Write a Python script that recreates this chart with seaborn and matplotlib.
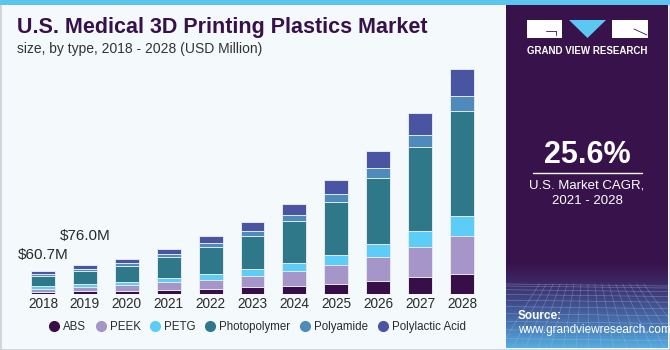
import numpy as np
import pandas as pd
import matplotlib
matplotlib.use("Agg")
import matplotlib.pyplot as plt
from matplotlib.patches import Rectangle, Polygon
from matplotlib.lines import Line2D
from matplotlib.colors import to_rgb
import seaborn as sns

# ---- data (USD Million) ----
years = ["2018", "2019", "2020", "2021", "2022", "2023", "2024", "2025", "2026", "2027", "2028"]
abs_vals = [6.0, 7.1, 8.6, 11.3, 13.9, 17.5, 21.7, 27.0, 34.0, 43.7, 53.2]
peek_vals = [7.8, 11.3, 14.9, 19.1, 23.6, 30.6, 38.5, 49.8, 62.9, 79.4, 99.5]
petg_vals = [6.0, 7.1, 7.9, 11.3, 14.9, 17.5, 21.7, 26.2, 34.0, 41.9, 52.4]
photo_vals = [27.0, 34.1, 41.9, 55.8, 71.5, 87.2, 109.2, 138.8, 173.7, 220.8, 274.2]
polyamide_vals = [5.2, 6.5, 9.0, 7.9, 9.7, 12.3, 15.7, 20.2, 26.2, 30.6, 37.5]
pla_vals = [8.7, 9.9, 10.5, 13.1, 17.5, 22.8, 28.0, 35.9, 44.5, 58.4, 71.5]
series_names = ["ABS", "PEEK", "PETG", "Photopolymer", "Polyamide", "Polylactic Acid"]
annotated_years = ["2018", "2019"]

colors = ["#370e48", "#a595c8", "#5ccdf6", "#2f7889", "#4f8abd", "#4954a3"]
bg = "#f4f9fc"
title_color = "#37114a"
panel = "#38124a"

series = [abs_vals, peek_vals, petg_vals, photo_vals, polyamide_vals, pla_vals]
df = pd.DataFrame({"year": years})
cum = np.zeros(len(years))
cum_cols = []
for name, vals in zip(series_names, series):
    cum = cum + np.array(vals)
    df[name] = cum.copy()
    cum_cols.append(name)

sns.set_theme(style="white")
plt.rcParams["font.family"] = ["Liberation Sans", "DejaVu Sans"]

W, H = 670, 350
fig = plt.figure(figsize=(6.7, 3.5), dpi=100, facecolor=bg)


def px_axes(rect_px, z):
    x0, yt, x1, yb = rect_px
    a = fig.add_axes([x0 / W, (H - yb) / H, (x1 - x0) / W, (yb - yt) / H], zorder=z)
    a.set_xlim(x0, x1)
    a.set_ylim(yb, yt)
    a.set_autoscale_on(False)
    a.axis("off")
    a.patch.set_alpha(0)
    return a


# layer 0: background and panel
axbg = px_axes((0, 0, W, H), 0)
axbg.add_patch(Rectangle((0.5, 0.5), W - 1, H - 1, facecolor=bg, edgecolor="#c9cfd6", lw=1.2))
axbg.add_patch(Rectangle((0, 0), W, 4.5, facecolor="#5cc5ee", edgecolor="none"))
axbg.add_patch(Rectangle((506, 4.5), 162, 343.5, facecolor=panel, edgecolor="none"))

# layer 1: gradient with grid at the bottom of the panel (manual colour interpolation)
axg = px_axes((506, 262, 668, 348), 1)
stop_pos = np.array([0.0, 0.2, 0.35, 0.7, 1.0])
stop_rgb = np.array([to_rgb(c) for c in [panel, "#3b2461", "#3e3a78", "#4670ad", "#55abdf"]])
nstrip = 43
edges = np.linspace(262, 348, nstrip + 1)
for k in range(nstrip):
    t = k / (nstrip - 1)
    rgb = tuple(float(np.interp(t, stop_pos, stop_rgb[:, j])) for j in range(3))
    axg.add_patch(Rectangle((506, edges[k]), 162, edges[k + 1] - edges[k] + 0.6,
                            facecolor=rgb, edgecolor="none"))
ys = 284 + 64 * (np.linspace(0, 1, 11) ** 1.5)
for yy in ys:
    axg.plot([506, 668], [yy, yy + 2], color="#a9c4e6", lw=0.45, alpha=0.45)
for xx in np.linspace(500, 690, 16):
    axg.plot([587 + (xx - 587) * 0.55, xx], [284, 348], color="#a9c4e6", lw=0.45, alpha=0.4)

# layer 3: logo and texts
axt = px_axes((0, 0, W, H), 3)
axt.add_patch(Rectangle((527, 20), 35, 18, facecolor="white", edgecolor="none"))
axt.plot([546, 556], [31, 31], color=panel, lw=0.6)
axt.plot([556, 556], [31, 35], color=panel, lw=0.6)
axt.add_patch(Polygon([(569, 20), (606, 20), (587.5, 38)], closed=True, facecolor="#5bc8f2",
                      edgecolor="none"))
axt.add_patch(Rectangle((612, 20), 36, 18, facecolor="white", edgecolor="none"))
axt.plot([634, 647], [29, 35], color=panel, lw=0.6)
axt.text(587.5, 51, "GRAND VIEW RESEARCH", color="white", fontsize=7.0, fontweight="bold",
         ha="center", va="center")
axt.text(587, 155, "25.6%", color="white", fontsize=22, fontweight="bold", ha="center", va="center")
axt.plot([533, 642], [173, 173], color="white", lw=1)
axt.text(587, 186, "U.S. Market CAGR,", color="white", fontsize=9.5, ha="center", va="center")
axt.text(587, 201, "2021 - 2028", color="white", fontsize=9.5, ha="center", va="center")
axt.text(518, 316, "Source:", color="white", fontsize=8.5, fontweight="bold", ha="left", va="center")
axt.text(518, 330, "www.grandviewresearch.com", color="white", fontsize=8.5, ha="left", va="center")
axt.text(17, 28, "U.S. Medical 3D Printing Plastics Market", color=title_color, fontsize=15.5,
         fontweight="heavy", ha="left", va="center")
axt.text(17, 49, "size, by type, 2018 - 2028 (USD Million)", color="#333333", fontsize=10,
         ha="left", va="center")

# layer 2: main chart
left_px, right_px = 22, 483
base_px, top_px = 294, 64
ax = fig.add_axes([left_px / W, (H - base_px) / H, (right_px - left_px) / W, (base_px - top_px) / H], zorder=2)
ax.patch.set_alpha(0)
for name, col in reversed(list(zip(cum_cols, colors))):
    sns.barplot(data=df, x="year", y=name, color=col, width=0.57, ax=ax,
                edgecolor="#e3e9f1", linewidth=0.7, saturation=1, order=years)
ax.set_xlim(-0.5, len(years) - 0.5)
ax.set_ylim(0, (base_px - top_px) * 60.7 / 23.2)
ax.set_xlabel("")
ax.set_ylabel("")
ax.set_yticks([])
for s in ax.spines.values():
    s.set_visible(False)
ax.tick_params(axis="x", length=0, pad=2.5, labelsize=9.8, labelcolor="#2a2a2a")

totals = df[cum_cols[-1]].values
offsets = {"2018": (0, 11.3), "2019": (0, 21.0)}
for y in annotated_years:
    i = years.index(y)
    ax.annotate(f"${totals[i]:.1f}M", xy=(i, totals[i]), xytext=offsets[y], textcoords="offset points",
                ha="center", va="center", fontsize=11, color="#2a2a2a")

handles = [Line2D([0], [0], marker="o", linestyle="none", markersize=7, markerfacecolor=c,
                  markeredgecolor=c) for c in colors]
fig.legend(handles, series_names, loc="center", bbox_to_anchor=(257 / W, (H - 327) / H), ncol=6,
           frameon=False, fontsize=8.3, handletextpad=0.3, columnspacing=0.75, handlelength=1.0,
           labelcolor="#2a2a2a")

fig.savefig("out.png", dpi=100, facecolor=bg)
